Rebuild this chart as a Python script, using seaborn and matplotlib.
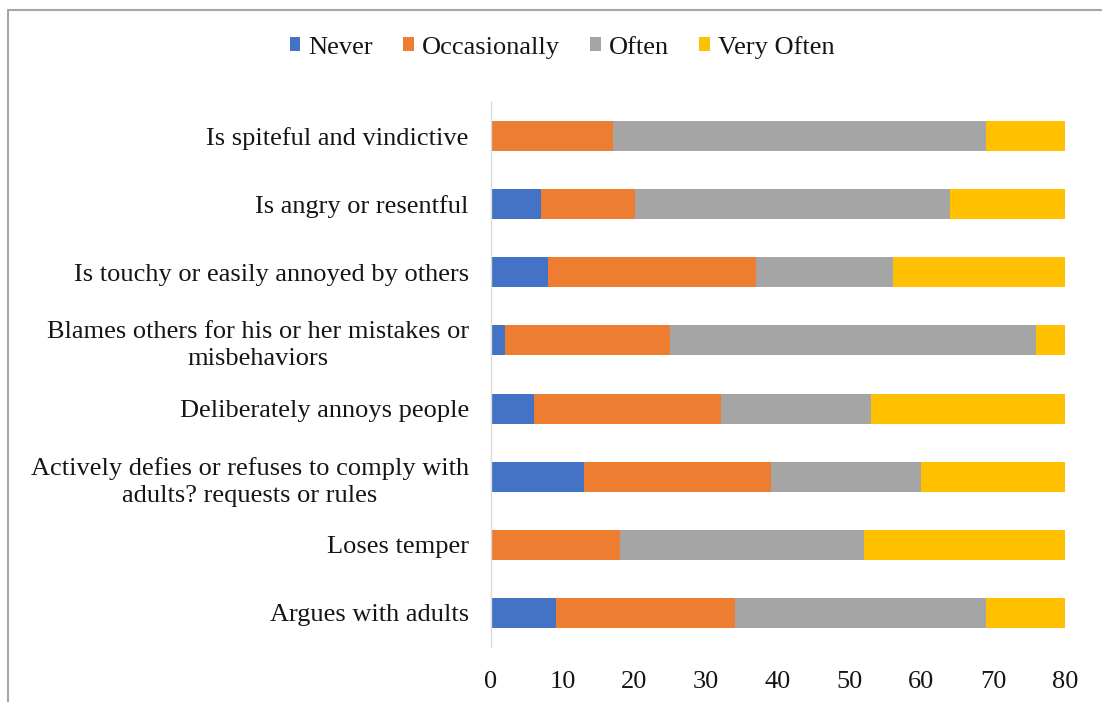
import matplotlib
matplotlib.use("Agg")
import matplotlib.pyplot as plt
from matplotlib.patches import Patch
from matplotlib.lines import Line2D
import numpy as np
import pandas as pd
import seaborn as sns

# ODD symptom frequency ratings (counts per behaviour)
categories = [
    "Is spiteful and vindictive",
    "Is angry or resentful",
    "Is touchy or easily annoyed by others",
    "Blames others for his or her mistakes or\nmisbehaviors",
    "Deliberately annoys people",
    "Actively defies or refuses to comply with\nadults? requests or rules",
    "Loses temper",
    "Argues with adults",
]
never = [0, 7, 8, 2, 6, 13, 0, 9]
occasionally = [17, 13, 29, 23, 26, 26, 18, 25]
often = [52, 44, 19, 51, 21, 21, 34, 35]
very_often = [11, 16, 24, 4, 27, 20, 28, 11]

series_names = ["Never", "Occasionally", "Often", "Very Often"]
series_colors = ["#4472C4", "#ED7D31", "#A5A5A5", "#FFC000"]
x_ticks = [0, 10, 20, 30, 40, 50, 60, 70, 80]

df = pd.DataFrame({
    "category": categories,
    "Never": never,
    "Occasionally": occasionally,
    "Often": often,
    "Very Often": very_often,
})

sns.set_theme(style="white")
plt.rcParams["font.family"] = ["Liberation Serif", "DejaVu Serif"]
text_color = "#151515"

fig = plt.figure(figsize=(11.02, 7.02), dpi=100)
ax = fig.add_axes([0.4456, 0.0783, 0.5208, 0.7764])

# Stacked bars: draw cumulative totals from the outermost segment inwards
cum = df[series_names].cumsum(axis=1)
for name, color in reversed(list(zip(series_names, series_colors))):
    sns.barplot(data=cum.assign(category=df["category"]), x=name, y="category",
                orient="h", color=color, width=0.44, saturation=1,
                linewidth=0, ax=ax)

ax.set_xlim(0, 80)
ax.set_ylim(7.5, -0.5)
ax.set_xticks(x_ticks)
ax.set_xticklabels([str(t) for t in x_ticks])
ax.set_xlabel("")
ax.set_ylabel("")
ax.tick_params(axis="both", length=0, labelsize=19, colors=text_color)
ax.tick_params(axis="y", pad=16)
ax.tick_params(axis="x", pad=17)
for lbl in ax.get_yticklabels():
    lbl.set_multialignment("center")
    lbl.set_linespacing(1.3)

for side in ["top", "right", "bottom"]:
    ax.spines[side].set_visible(False)
ax.spines["left"].set_color("#d9d9d9")
ax.spines["left"].set_linewidth(1.0)
ax.grid(False)

handles = [Patch(facecolor=c, edgecolor="none", label=n)
           for n, c in zip(series_names, series_colors)]
fig.legend(handles=handles, loc="center", bbox_to_anchor=(0.51, 0.933),
           ncol=4, frameon=False, fontsize=19, handlelength=0.4,
           handleheight=0.4, handletextpad=0.3, columnspacing=1.15,
           labelcolor=text_color)

# Thin frame along the left and top edges of the figure
fig.add_artist(Line2D([8 / 1102, 8 / 1102], [0, 1 - 10 / 702],
                      transform=fig.transFigure, color="#a6a6a6", lw=1.5))
fig.add_artist(Line2D([8 / 1102, 1], [1 - 10 / 702, 1 - 10 / 702],
                      transform=fig.transFigure, color="#a6a6a6", lw=1.5))

fig.savefig("out.png", dpi=100, facecolor="white")
